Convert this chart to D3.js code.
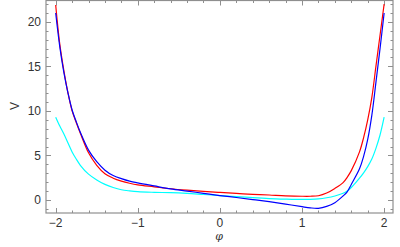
<!DOCTYPE html>
<html>
<head>
<meta charset="utf-8">
<script src="https://cdn.jsdelivr.net/npm/d3@7"></script>
<style>
  body { margin: 0; background: #fff; }
  svg { display: block; }
</style>
</head>
<body>
<script>
//data
var phi = [-2, -1.95, -1.9, -1.85, -1.8, -1.75, -1.7, -1.6, -1.5, -1.4, -1.3, -1.2, -1.1, -1.0,
           -0.8, -0.6, -0.4, -0.2, 0, 0.2, 0.4, 0.6, 0.8, 1.0, 1.1, 1.2, 1.3, 1.4, 1.5, 1.55, 1.6,
           1.7, 1.75, 1.8, 1.85, 1.9, 1.95, 2.0];
var redV = [21.9, 17.5, 14.5, 12.0, 10.0, 8.7, 7.5, 5.3, 3.9, 2.95, 2.45, 2.12, 1.88, 1.7,
            1.48, 1.26, 1.1, 0.97, 0.85, 0.74, 0.64, 0.56, 0.47, 0.42, 0.42, 0.48, 0.78, 1.3, 1.95, 2.55, 3.3,
            5.4, 7.0, 9.0, 11.5, 15.0, 18.5, 22.0];
var blueV = [21.0, 17.2, 14.3, 12.0, 10.1, 8.8, 7.6, 5.6, 4.3, 3.35, 2.75, 2.4, 2.12, 1.92,
             1.58, 1.25, 1.0, 0.75, 0.5, 0.28, 0.05, -0.19, -0.46, -0.75, -0.88, -0.93, -0.72, -0.3, 0.45, 0.92, 1.75,
             3.5, 4.9, 6.8, 9.5, 13.2, 17.0, 21.0];
var cyanV = [9.3, 8.3, 7.4, 6.4, 5.4, 4.6, 3.9, 2.9, 2.25, 1.75, 1.4, 1.15, 1.02, 0.93,
             0.86, 0.82, 0.74, 0.62, 0.5, 0.38, 0.26, 0.16, 0.1, 0.06, 0.07, 0.12, 0.25, 0.45, 0.75, 1.0, 1.4,
             2.45, 3.05, 3.75, 4.6, 5.8, 7.3, 9.3];
var xMajor = [-2, -1, 0, 1, 2];
var yMajor = [0, 5, 10, 15, 20];

var width = 400, height = 247;

var svg = d3.select("body").append("svg")
    .attr("width", width)
    .attr("height", height);

var x = d3.scaleLinear().domain([-2.118, 2.108]).range([46, 393]);
var y = d3.scaleLinear().domain([-1.46, 22.4]).range([213, 0.5]);

//clip curves to the frame
svg.append("clipPath").attr("id", "clip")
  .append("rect")
    .attr("x", x.range()[0]).attr("y", y.range()[1])
    .attr("width", x.range()[1] - x.range()[0])
    .attr("height", y.range()[0] - y.range()[1]);

var frameColor = "#8f8f8f";

//minor ticks: every 0.2 on x, every 1 on y
var xMinor = d3.range(-20, 21, 2).map(function(d){ return d / 10; });
var yMinor = d3.range(-1, 23, 1);

var ticks = svg.append("g").attr("stroke", frameColor).attr("stroke-width", 1);

xMinor.forEach(function(v){
    var len = xMajor.indexOf(v) >= 0 ? 5 : 2.5;
    var px = Math.round(x(v)) + 0.5;
    ticks.append("line").attr("x1", px).attr("x2", px)
        .attr("y1", y.range()[0]).attr("y2", y.range()[0] - len);
    ticks.append("line").attr("x1", px).attr("x2", px)
        .attr("y1", y.range()[1]).attr("y2", y.range()[1] + len);
});
yMinor.forEach(function(v){
    if (y(v) < y.range()[1] || y(v) > y.range()[0]) return;
    var len = yMajor.indexOf(v) >= 0 ? 5 : 2.5;
    var py = Math.round(y(v)) + 0.5;
    ticks.append("line").attr("y1", py).attr("y2", py)
        .attr("x1", x.range()[0]).attr("x2", x.range()[0] + len);
    ticks.append("line").attr("y1", py).attr("y2", py)
        .attr("x1", x.range()[1]).attr("x2", x.range()[1] - len);
});

//curves
var line = d3.line()
    .x(function(d){ return x(d[0]); })
    .y(function(d){ return y(d[1]); })
    .curve(d3.curveCatmullRom.alpha(0.5));

var series = [
    {vals: cyanV, color: "#00ffff"},
    {vals: redV, color: "#ff0000"},
    {vals: blueV, color: "#0000ff"}
];

svg.append("g").attr("clip-path", "url(#clip)")
  .selectAll("path")
  .data(series)
  .enter()
  .append("path")
    .attr("fill", "none")
    .attr("stroke", function(d){ return d.color; })
    .attr("stroke-width", 1.2)
    .attr("d", function(d){
        return line(phi.map(function(p, i){ return [p, d.vals[i]]; }));
    });

//frame
svg.append("rect")
    .attr("x", x.range()[0]).attr("y", y.range()[1])
    .attr("width", x.range()[1] - x.range()[0])
    .attr("height", y.range()[0] - y.range()[1])
    .attr("fill", "none")
    .attr("stroke", frameColor)
    .attr("stroke-width", 1.2);

//tick labels
var fmt = function(v){ return v < 0 ? "\u2212" + Math.abs(v) : String(v); };

svg.append("g")
    .attr("font-family", "Liberation Sans, Arial, sans-serif")
    .attr("font-size", 12)
    .attr("fill", "#333")
    .attr("text-anchor", "middle")
  .selectAll("text")
  .data(xMajor)
  .enter()
  .append("text")
    .attr("x", function(d){ return x(d); })
    .attr("y", 227)
    .text(fmt);

svg.append("g")
    .attr("font-family", "Liberation Sans, Arial, sans-serif")
    .attr("font-size", 12)
    .attr("fill", "#333")
    .attr("text-anchor", "end")
  .selectAll("text")
  .data(yMajor)
  .enter()
  .append("text")
    .attr("x", 41)
    .attr("y", function(d){ return y(d) + 4.5; })
    .text(fmt);

//axis labels
svg.append("text")
    .attr("x", 219)
    .attr("y", 240)
    .attr("text-anchor", "middle")
    .attr("font-family", "DejaVu Serif, serif")
    .attr("font-style", "italic")
    .attr("font-size", 11)
    .attr("fill", "#333")
    .text("\u03c6");

svg.append("text")
    .attr("transform", "translate(19,106) rotate(-90)")
    .attr("text-anchor", "middle")
    .attr("font-family", "Liberation Sans, Arial, sans-serif")
    .attr("font-size", 12)
    .attr("fill", "#333")
    .text("V");
</script>
</body>
</html>
